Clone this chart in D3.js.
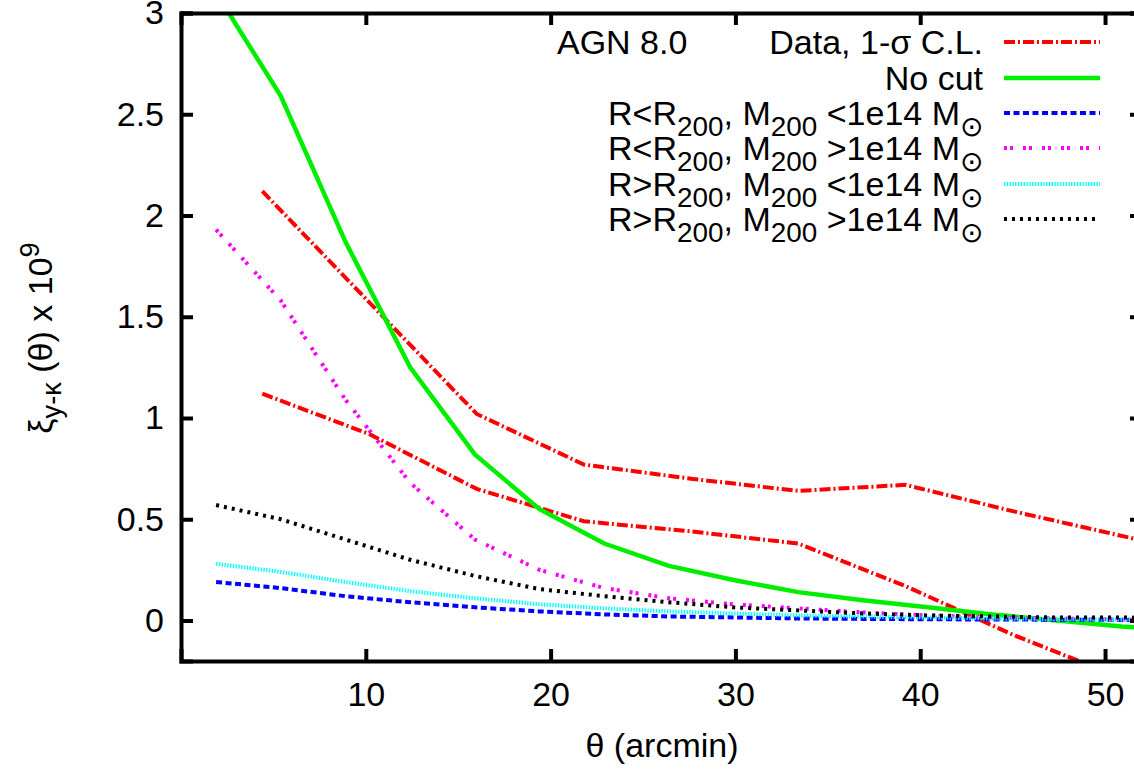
<!DOCTYPE html>
<html>
<head>
<meta charset="utf-8">
<script src="https://cdn.jsdelivr.net/npm/d3@7"></script>
<style>
  body { margin: 0; background: #fff; }
  svg text { font-family: "Liberation Sans", Arial, sans-serif; fill: #000; }
</style>
</head>
<body>
<div id="graph"></div>
<script>
// theta grid of the simulated curves and of the data band (arcmin)
let thetaModel = [1.9, 5.4, 8.9, 12.4, 15.9, 19.4, 22.9, 26.4, 29.9, 33.4, 36.9, 40.4, 43.9, 47.4, 50.9, 54.4];
let thetaData = [4.4, 10.2, 16.0, 21.8, 27.6, 33.4, 39.2, 45.0, 50.8, 56.6];

// data, 1-sigma band (upper / lower)
let dataUpper = [2.12, 1.57, 1.02, 0.77, 0.70, 0.64, 0.67, 0.54, 0.42, 0.30];
let dataLower = [1.12, 0.92, 0.65, 0.49, 0.44, 0.38, 0.17, -0.07, -0.28, -0.50];

// model curves
let noCut     = [3.10, 2.59, 1.87, 1.25, 0.82, 0.55, 0.38, 0.27, 0.20, 0.14, 0.10, 0.065, 0.03, 0.0, -0.03, -0.05];
let inLowM    = [0.19, 0.16, 0.12, 0.09, 0.065, 0.045, 0.03, 0.02, 0.015, 0.01, 0.008, 0.006, 0.005, 0.004, 0.003, 0.002];
let inHighM   = [1.93, 1.58, 1.09, 0.68, 0.40, 0.25, 0.16, 0.11, 0.08, 0.06, 0.04, 0.025, 0.015, 0.01, 0.005, 0.0];
let outLowM   = [0.28, 0.24, 0.19, 0.145, 0.11, 0.08, 0.06, 0.045, 0.035, 0.025, 0.02, 0.015, 0.01, 0.007, 0.005, 0.004];
let outHighM  = [0.57, 0.50, 0.40, 0.30, 0.22, 0.155, 0.12, 0.09, 0.065, 0.05, 0.035, 0.025, 0.02, 0.015, 0.015, 0.01];

let xTicks = [10, 20, 30, 40, 50];
let yTicks = [0, 0.5, 1, 1.5, 2, 2.5, 3];

let w = 1134, h = 771;
let margin = { left: 181, right: -8, top: 13, bottom: 110 };
let fontSize = 34;

let svg = d3.select('#graph').append('svg')
    .attr('width', w).attr('height', h);

let x = d3.scaleLinear().domain([0, 52]).range([margin.left, w - margin.right]);
let y = d3.scaleLinear().domain([-0.2, 3]).range([h - margin.bottom, margin.top]);

svg.append('defs').append('clipPath').attr('id', 'plotclip')
  .append('rect')
    .attr('x', x(0)).attr('y', y(3))
    .attr('width', x(52) - x(0)).attr('height', y(-0.2) - y(3));

// series: label pieces, colour, dash pattern
let series = [
    { name: 'data', label: [['Data, 1-σ C.L.']], color: '#ff0000', dash: '11,3,2,3', width: 4 },
    { name: 'nocut', label: [['No cut']], color: '#00ee00', dash: null, width: 4.5, xs: thetaModel, ys: noCut },
    { name: 'inlow', label: [['R<R'], ['200', 'sub'], [', M'], ['200', 'sub'], [' <1e14 M'], ['⊙', 'sub']], color: '#0000ff', dash: '6,3.5', width: 4, xs: thetaModel, ys: inLowM },
    { name: 'inhigh', label: [['R<R'], ['200', 'sub'], [', M'], ['200', 'sub'], [' >1e14 M'], ['⊙', 'sub']], color: '#ff00ff', dash: '3,3,3,10', width: 4, xs: thetaModel, ys: inHighM },
    { name: 'outlow', label: [['R>R'], ['200', 'sub'], [', M'], ['200', 'sub'], [' <1e14 M'], ['⊙', 'sub']], color: '#00ffff', dash: '1.4,1.4', width: 4, xs: thetaModel, ys: outLowM },
    { name: 'outhigh', label: [['R>R'], ['200', 'sub'], [', M'], ['200', 'sub'], [' >1e14 M'], ['⊙', 'sub']], color: '#000000', dash: '3,5', width: 4, xs: thetaModel, ys: outHighM }
];

let line = d3.line()
    .x(d => x(d[0]))
    .y(d => y(d[1]));

let plot = svg.append('g').attr('clip-path', 'url(#plotclip)');

function drawCurve(s, xs, ys) {
    plot.append('path')
        .datum(d3.zip(xs, ys))
        .attr('d', line)
        .attr('fill', 'none')
        .attr('stroke', s.color)
        .attr('stroke-width', s.width)
        .attr('stroke-linecap', 'butt')
        .attr('stroke-linejoin', 'miter')
        .attr('stroke-dasharray', s.dash);
}

drawCurve(series[0], thetaData, dataUpper);
drawCurve(series[0], thetaData, dataLower);
series.slice(1).forEach(s => drawCurve(s, s.xs, s.ys));

// axes, gnuplot style: inward ticks mirrored on all four sides
let tickLen = 12;
let axisG = svg.append('g');
axisG.append('g')
    .attr('transform', `translate(0,${y(-0.2)})`)
    .call(d3.axisBottom(x).tickValues(xTicks).tickSize(-tickLen).tickPadding(21).tickFormat(d3.format('d')));
axisG.append('g')
    .attr('transform', `translate(0,${y(3)})`)
    .call(d3.axisTop(x).tickValues(xTicks).tickSize(-tickLen).tickFormat(''));
axisG.append('g')
    .attr('transform', `translate(${x(0)},0)`)
    .call(d3.axisLeft(y).tickValues(yTicks).tickSize(-tickLen).tickPadding(17).tickFormat(d => d3.format('')(d)));
axisG.append('g')
    .attr('transform', `translate(${x(52)},0)`)
    .call(d3.axisRight(y).tickValues(yTicks).tickSize(-tickLen).tickFormat(''));

axisG.selectAll('.domain').attr('stroke', '#000').attr('stroke-width', 4);
axisG.selectAll('.tick line').attr('stroke', '#000').attr('stroke-width', 4);
axisG.selectAll('.tick text').attr('font-size', fontSize).attr('font-family', '"Liberation Sans", Arial, sans-serif').attr('fill', '#000');

// axis titles
svg.append('text')
    .attr('x', 662).attr('y', 757)
    .attr('text-anchor', 'middle')
    .attr('font-size', fontSize)
    .text('θ (arcmin)');

let ylab = svg.append('text')
    .attr('transform', `translate(52,338) rotate(-90)`)
    .attr('text-anchor', 'middle')
    .attr('font-size', fontSize);
ylab.append('tspan').text('ξ');
ylab.append('tspan').attr('font-size', fontSize * 0.8).attr('dy', 9).text('y-κ');
ylab.append('tspan').attr('dy', -9).text(' (θ) x 10');
ylab.append('tspan').attr('font-size', fontSize * 0.8).attr('dy', -13).text('9');

// key
svg.append('text')
    .attr('x', 557).attr('y', 54)
    .attr('font-size', fontSize)
    .text('AGN 8.0');

let keyRows = [42, 78, 113, 148, 184, 219];
series.forEach((s, i) => {
    let t = svg.append('text')
        .attr('x', 983).attr('y', keyRows[i] + 12)
        .attr('text-anchor', 'end')
        .attr('font-size', fontSize);
    let shift = 0;
    s.label.forEach(p => {
        let target = p[1] === 'sub' ? 11 : 0;
        let ts = t.append('tspan').text(p[0]).attr('dy', target - shift);
        if (p[1] === 'sub') ts.attr('font-size', fontSize * 0.82);
        shift = target;
    });
    svg.append('line')
        .attr('x1', 1004).attr('x2', 1100)
        .attr('y1', keyRows[i]).attr('y2', keyRows[i])
        .attr('stroke', s.color)
        .attr('stroke-width', s.width)
        .attr('stroke-dasharray', s.dash);
});
</script>
</body>
</html>
